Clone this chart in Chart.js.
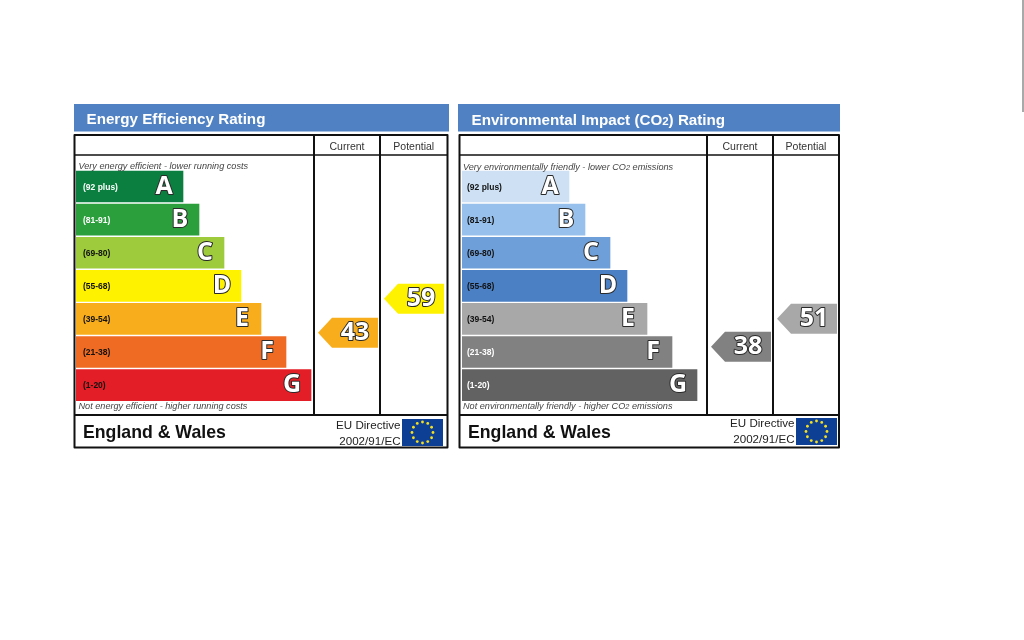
<!DOCTYPE html>
<html lang="en">
<head>
  <meta charset="UTF-8" />
  <title>Energy Efficiency and Environmental Impact Rating</title>
  <script src="https://cdn.jsdelivr.net/npm/chart.js"></script>
  <style>
    html, body { margin: 0; background: #fff; overflow: hidden; }
    canvas { position: absolute; top: 0; filter: blur(0.35px); }
    #energyChart { left: 0; }
    #co2Chart { left: 453px; }
    #edge { position: absolute; left: 1022px; top: 0; width: 2px; height: 112px; background: #a9a9a9; }
  </style>
</head>
<body>
  <canvas id="energyChart" width="453" height="640"></canvas>
  <canvas id="co2Chart" width="571" height="640"></canvas>
  <div id="edge"></div>

  <script>
    // Bands
    const bandLetters = ["A", "B", "C", "D", "E", "F", "G"];
    const bandRanges = ["(92 plus)", "(81-91)", "(69-80)", "(55-68)", "(39-54)", "(21-38)", "(1-20)"];
    const bandMins = [92, 81, 69, 55, 39, 21, 1];
    const energyBarLengths = [107, 123, 148, 165, 185, 210, 235];
    const co2BarLengths = [107, 123, 148, 165, 185, 210, 235];

    // Colours
    const energyColors = ["#0a7f3f", "#2c9f3d", "#9ecb3b", "#fff200", "#f8ae1c", "#ef6a23", "#e41e26"];
    const co2Colors = ["#cde0f4", "#97c0ec", "#6f9fd8", "#4c80c5", "#a8a8a8", "#818181", "#626262"];
    const energyRangeColors = ["#fff", "#fff", "#111", "#111", "#111", "#111", "#111"];
    const co2RangeColors = ["#111", "#111", "#111", "#111", "#111", "#fff", "#fff"];

    // Ratings
    const energyCurrent = 43;
    const energyPotential = 59;
    const co2Current = 38;
    const co2Potential = 51;

    const SANS = '"Liberation Sans", Arial, sans-serif';
    const BADGE = '"Open Sans", sans-serif';

    // text runs, so that the small 2 in CO2 stays next to the rest of the line
    function drawRuns(ctx, runs, x, y, color) {
      ctx.fillStyle = color;
      ctx.textAlign = "left";
      ctx.textBaseline = "alphabetic";
      runs.forEach(([text, font]) => {
        ctx.font = font;
        ctx.fillText(text, x, y);
        x += ctx.measureText(text).width;
      });
    }

    function outlined(ctx, text, x, y, font) {
      ctx.font = font;
      ctx.textAlign = "center";
      ctx.textBaseline = "middle";
      ctx.lineJoin = "round";
      ctx.lineWidth = 2;
      ctx.strokeStyle = "#2a2a2a";
      ctx.strokeText(text, x, y);
      ctx.fillStyle = "#fff";
      ctx.fillText(text, x, y);
    }

    function drawFlag(ctx, x, y, w, h) {
      ctx.fillStyle = "#0d3f94";
      ctx.fillRect(x, y, w, h);
      ctx.fillStyle = "#f5e020";
      for (let i = 0; i < 12; i++) {
        const a = i * Math.PI / 6;
        ctx.beginPath();
        ctx.arc(x + w / 2 + Math.cos(a) * 10.5, y + h / 2 + Math.sin(a) * 10.5, 1.4, 0, Math.PI * 2);
        ctx.fill();
      }
    }

    function drawFrame(ctx, p) {
      const f = p.frame;
      ctx.save();
      ctx.translate(-p.canvasLeft, 0);

      // header
      ctx.fillStyle = "#4f81c3";
      ctx.fillRect(f.headLeft, 104, f.headRight - f.headLeft, 27.5);
      drawRuns(ctx, p.titleRuns, f.titleX, f.titleY, "#fff");

      // box lines
      ctx.strokeStyle = "#111";
      ctx.lineWidth = 2;
      ctx.strokeRect(f.left, 135, f.right - f.left, f.bottom - 135);
      ctx.beginPath();
      ctx.moveTo(f.left, 415); ctx.lineTo(f.right, 415);
      ctx.moveTo(f.col1, 135); ctx.lineTo(f.col1, 415);
      ctx.moveTo(f.col2, 135); ctx.lineTo(f.col2, 415);
      ctx.stroke();
      ctx.lineWidth = 1.4;
      ctx.beginPath();
      ctx.moveTo(f.left, 155); ctx.lineTo(f.right, 155);
      ctx.stroke();

      // column heads
      ctx.fillStyle = "#333";
      ctx.font = "10.5px " + SANS;
      ctx.textAlign = "center";
      ctx.textBaseline = "alphabetic";
      ctx.fillText("Current", (f.col1 + f.col2) / 2, 150);
      ctx.fillText("Potential", (f.col2 + f.right) / 2, 150);

      // top and bottom notes
      drawRuns(ctx, p.topNote, f.noteX, f.noteY, "#444");
      drawRuns(ctx, p.bottomNote, f.noteX, 408.5, "#444");

      // footer
      drawRuns(ctx, [["England & Wales", "bold 17.7px " + SANS]], f.left + 8.5, 438, "#111");
      ctx.fillStyle = "#222";
      ctx.font = "11.6px " + SANS;
      ctx.textAlign = "right";
      ctx.fillText("EU Directive", f.flagX - 1.5, f.euY);
      ctx.fillText("2002/91/EC", f.flagX - 1.5, f.euY + 16);
      drawFlag(ctx, f.flagX, f.flagY, 41, 27);
      ctx.restore();
    }

    function drawArrow(chart, p, rating, colRight) {
      const ctx = chart.ctx;
      const x = chart.scales.x;
      const y = chart.scales.rating.getPixelForValue(rating);
      const right = x.getPixelForValue(colRight);
      const band = bandMins.findIndex(m => rating >= m);
      ctx.fillStyle = p.colors[band];
      ctx.beginPath();
      ctx.moveTo(right, y - 15);
      ctx.lineTo(right, y + 15);
      ctx.lineTo(right - 46, y + 15);
      ctx.lineTo(right - 60, y);
      ctx.lineTo(right - 46, y - 15);
      ctx.closePath();
      ctx.fill();
      outlined(ctx, String(rating), right - 23, y, "bold 25px " + BADGE);
    }

    const panelPlugin = {
      id: "panel",
      afterDatasetsDraw(chart, args, p) {
        const ctx = chart.ctx;
        const bars = chart.getDatasetMeta(0).data;
        ctx.save();
        bars.forEach((bar, i) => {
          ctx.fillStyle = p.rangeColors[i];
          ctx.font = "bold 8.5px " + SANS;
          ctx.textAlign = "left";
          ctx.textBaseline = "middle";
          ctx.fillText(bandRanges[i], chart.chartArea.left + p.rangeInset, bar.y + 0.7);
          outlined(ctx, bandLetters[i], bar.x - 19, bar.y, "bold 25px " + BADGE);
        });
        drawArrow(chart, p, p.current, p.currentRight);
        drawArrow(chart, p, p.potential, p.potentialRight);
        drawFrame(ctx, p);
        ctx.restore();
      }
    };

    function makePanel(id, lengths, p) {
      return new Chart(document.getElementById(id), {
        type: "bar",
        plugins: [panelPlugin],
        data: {
          labels: bandLetters,
          datasets: [{ data: lengths, backgroundColor: p.colors, barThickness: 31, borderWidth: 0 }]
        },
        options: {
          indexAxis: "y",
          responsive: false,
          animation: false,
          layout: { padding: p.padding },
          scales: {
            // one x unit is one pixel, the axis runs on to the right edge of the box
            x: { display: false, min: 0, max: p.xMax },
            y: { display: false },
            // bar charts give every y axis offset: true, the rating axis must not have it
            rating: { axis: "y", type: "linear", display: false, offset: false, min: p.ratingMin, max: p.ratingMax }
          },
          plugins: { legend: { display: false }, tooltip: { enabled: false }, panel: p }
        }
      });
    }

    const noteFont = "italic 9.15px " + SANS;
    const noteSmall = "italic 7.4px " + SANS;
    const titleFont = "bold 15.2px " + SANS;

    makePanel("energyChart", energyBarLengths, {
      canvasLeft: 0,
      padding: { left: 76, right: 0, top: 170, bottom: 238.4 },
      xMax: 377,
      ratingMin: 10.5,
      ratingMax: 119.7,
      colors: energyColors,
      rangeColors: energyRangeColors,
      rangeInset: 7,
      current: energyCurrent,
      potential: energyPotential,
      currentRight: 302,
      potentialRight: 368,
      titleRuns: [["Energy Efficiency Rating", titleFont]],
      topNote: [["Very energy efficient - lower running costs", noteFont]],
      bottomNote: [["Not energy efficient - higher running costs", noteFont]],
      frame: { headLeft: 74, headRight: 449, titleX: 86.5, titleY: 124, left: 74.5, right: 447.5, col1: 314, col2: 380, bottom: 447.5, noteX: 78.5, noteY: 168.8, flagX: 402, flagY: 419, euY: 429 }
    });

    makePanel("co2Chart", co2BarLengths, {
      canvasLeft: 453,
      padding: { left: 9, right: 0, top: 170, bottom: 238.4 },
      xMax: 562,
      ratingMin: 12.5,
      ratingMax: 120.2,
      colors: co2Colors,
      rangeColors: co2RangeColors,
      rangeInset: 5,
      current: co2Current,
      potential: co2Potential,
      currentRight: 309,
      potentialRight: 375,
      titleRuns: [["Environmental Impact (CO", titleFont], ["2", "bold 11.5px " + SANS], [") Rating", titleFont]],
      topNote: [["Very environmentally friendly - lower CO", noteFont], ["2", noteSmall], [" emissions", noteFont]],
      bottomNote: [["Not environmentally friendly - higher CO", noteFont], ["2", noteSmall], [" emissions", noteFont]],
      frame: { headLeft: 458, headRight: 840, titleX: 471.5, titleY: 125, left: 459.5, right: 839, col1: 707, col2: 773, bottom: 447.5, noteX: 463, noteY: 169.5, flagX: 796, flagY: 418, euY: 426.5 }
    });
  </script>
</body>
</html>
